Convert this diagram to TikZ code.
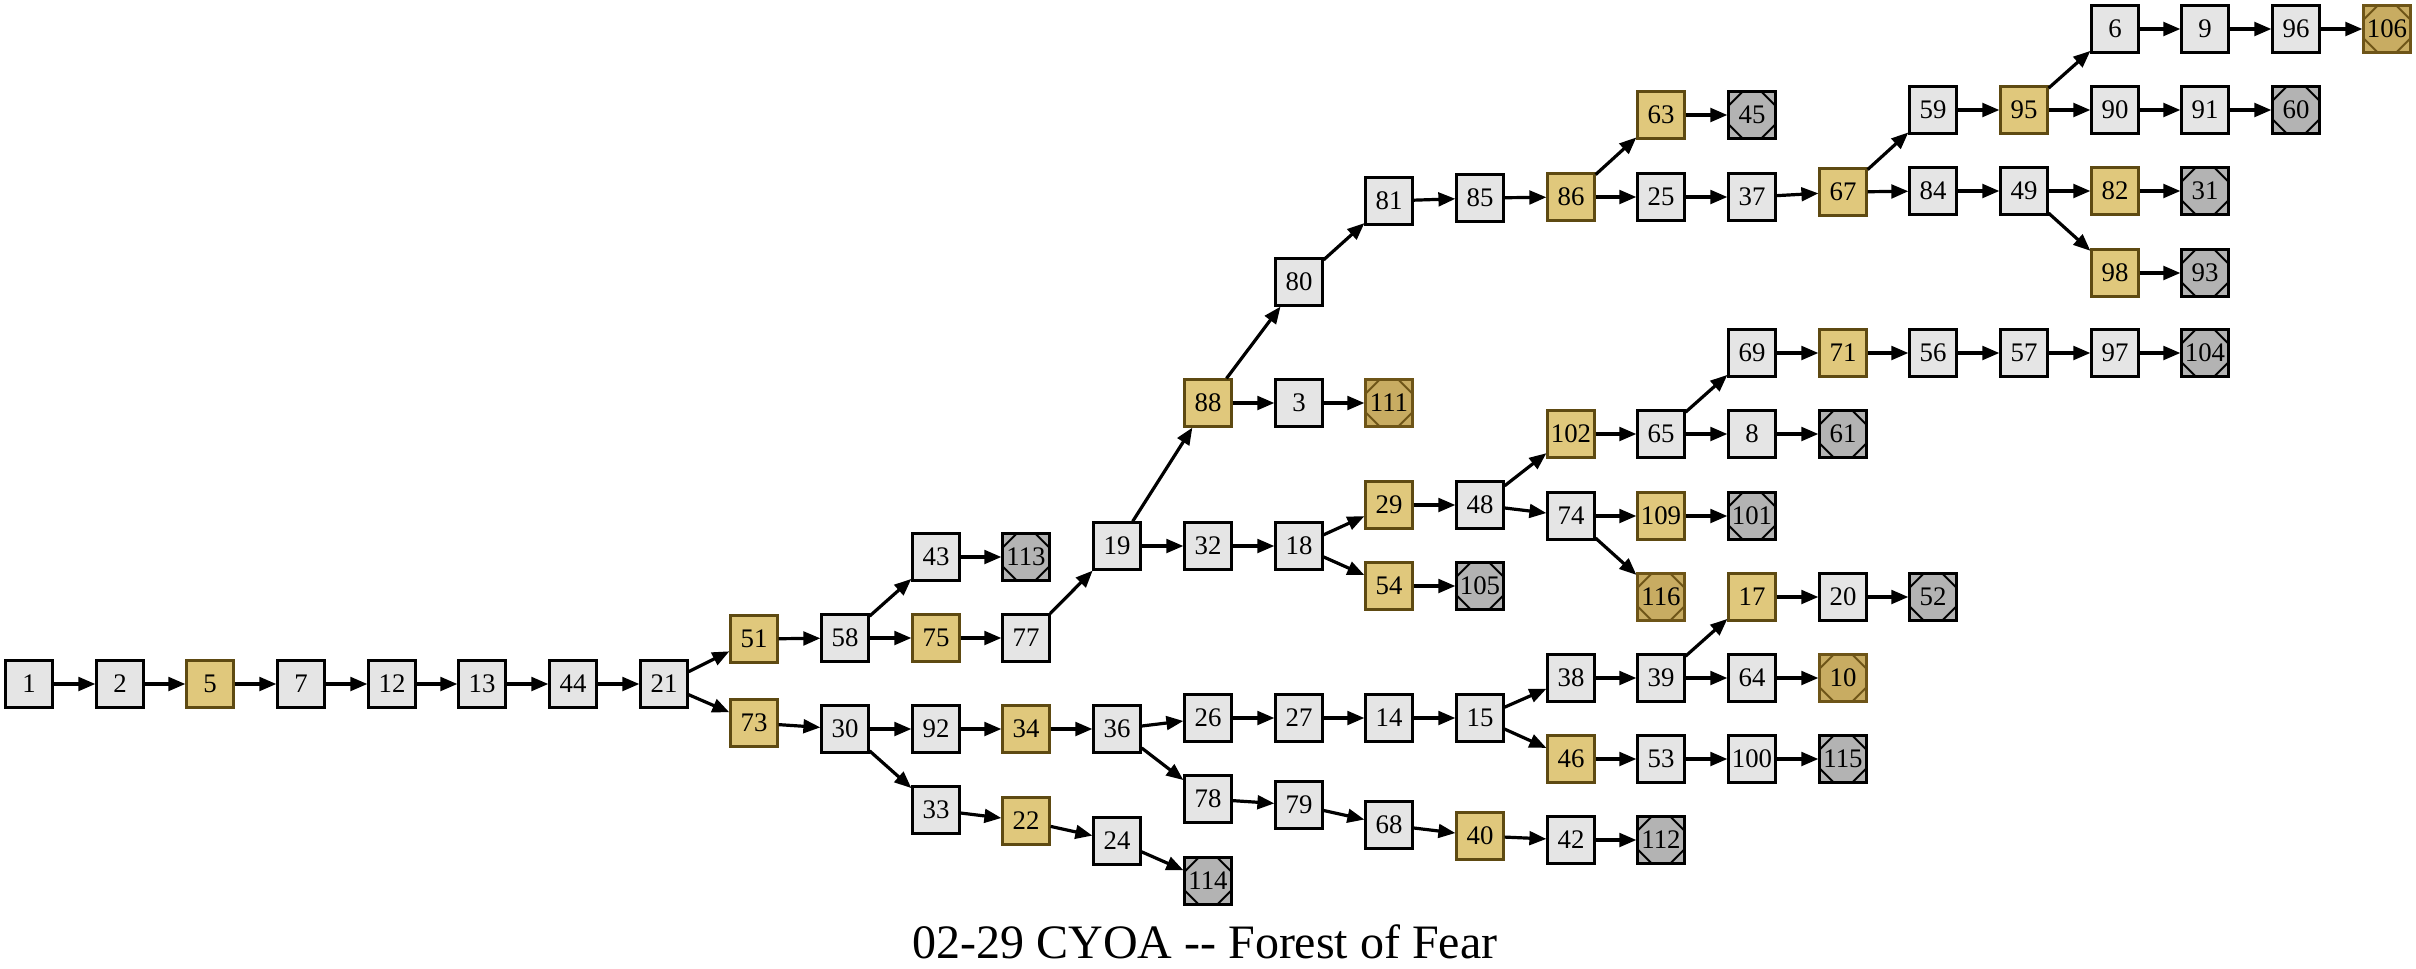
\documentclass[tikz,border=0pt]{standalone}
\usepackage{fontspec}
\setmainfont{Liberation Serif}
\usetikzlibrary{arrows.meta}
\definecolor{plainfill}{HTML}{E5E5E5}
\definecolor{goldfill}{HTML}{E0C87C}
\definecolor{goldline}{HTML}{5E4A12}
\definecolor{endgray}{HTML}{B3B3B3}
\definecolor{endgold}{HTML}{C8AC62}
\definecolor{endgoldline}{HTML}{6E5518}
\newcommand\cutcorners[1]{%
	\draw[#1,line width=1pt]
		([yshift=-6.8pt]path picture bounding box.north west) -- ([xshift=6.8pt]path picture bounding box.north west)
		([xshift=-6.8pt]path picture bounding box.north east) -- ([yshift=-6.8pt]path picture bounding box.north east)
		([yshift=6.8pt]path picture bounding box.south east) -- ([xshift=-6.8pt]path picture bounding box.south east)
		([xshift=6.8pt]path picture bounding box.south west) -- ([yshift=6.8pt]path picture bounding box.south west);}
\begin{document}
\begin{tikzpicture}[x=0.5pt,y=-0.5pt,
		plainbox/.style={draw=black,fill=plainfill,line width=1.4pt,minimum size=23.2pt,inner sep=0pt,font=\fontsize{13.4}{15}\selectfont},
		goldbox/.style={plainbox,draw=goldline,fill=goldfill},
		endbox/.style={plainbox,fill=endgray,path picture={\cutcorners{black}}},
		endgoldbox/.style={plainbox,draw=endgoldline,fill=endgold,path picture={\cutcorners{endgoldline}}},
		flow/.style={line width=1.6pt,-{Triangle[length=8.5pt,width=6.8pt]}}]
	\useasboundingbox (0,0) rectangle (2416,969);
	% main line
	\node[plainbox] (n1) at (29,684) {1};
	\node[plainbox] (n2) at (120,684) {2};
	\node[goldbox] (n5) at (210,684) {5};
	\node[plainbox] (n7) at (301,684) {7};
	\node[plainbox] (n12) at (392,684) {12};
	\node[plainbox] (n13) at (482,684) {13};
	\node[plainbox] (n44) at (573,684) {44};
	\node[plainbox] (n21) at (664,684) {21};
	% upper branch
	\node[goldbox] (n51) at (754,639) {51};
	\node[plainbox] (n58) at (845,638) {58};
	\node[plainbox] (n43) at (936,557) {43};
	\node[endbox] (n113) at (1026,557) {113};
	\node[goldbox] (n75) at (936,638) {75};
	\node[plainbox] (n77) at (1026,638) {77};
	\node[plainbox] (n19) at (1117,546) {19};
	\node[goldbox] (n88) at (1208,403) {88};
	\node[plainbox] (n3) at (1299,403) {3};
	\node[endgoldbox] (n111) at (1389,403) {111};
	\node[plainbox] (n80) at (1299,282) {80};
	\node[plainbox] (n81) at (1389,201) {81};
	\node[plainbox] (n85) at (1480,198) {85};
	\node[goldbox] (n86) at (1571,197) {86};
	\node[goldbox] (n63) at (1661,115) {63};
	\node[endbox] (n45) at (1752,115) {45};
	\node[plainbox] (n25) at (1661,197) {25};
	\node[plainbox] (n37) at (1752,197) {37};
	\node[goldbox] (n67) at (1843,192) {67};
	\node[plainbox] (n59) at (1933,110) {59};
	\node[goldbox] (n95) at (2024,110) {95};
	\node[plainbox] (n6) at (2115,29) {6};
	\node[plainbox] (n9) at (2205,29) {9};
	\node[plainbox] (n96) at (2296,29) {96};
	\node[endgoldbox] (n106) at (2387,29) {106};
	\node[plainbox] (n90) at (2115,110) {90};
	\node[plainbox] (n91) at (2205,110) {91};
	\node[endbox] (n60) at (2296,110) {60};
	\node[plainbox] (n84) at (1933,191) {84};
	\node[plainbox] (n49) at (2024,191) {49};
	\node[goldbox] (n82) at (2115,191) {82};
	\node[endbox] (n31) at (2205,191) {31};
	\node[goldbox] (n98) at (2115,273) {98};
	\node[endbox] (n93) at (2205,273) {93};
	\node[plainbox] (n32) at (1208,546) {32};
	\node[plainbox] (n18) at (1299,546) {18};
	\node[goldbox] (n29) at (1389,505) {29};
	\node[goldbox] (n54) at (1389,586) {54};
	\node[endbox] (n105) at (1480,586) {105};
	\node[plainbox] (n48) at (1480,505) {48};
	\node[goldbox] (n102) at (1571,434) {102};
	\node[plainbox] (n65) at (1661,434) {65};
	\node[plainbox] (n69) at (1752,353) {69};
	\node[goldbox] (n71) at (1843,353) {71};
	\node[plainbox] (n56) at (1933,353) {56};
	\node[plainbox] (n57) at (2024,353) {57};
	\node[plainbox] (n97) at (2115,353) {97};
	\node[endbox] (n104) at (2205,353) {104};
	\node[plainbox] (n8) at (1752,434) {8};
	\node[endbox] (n61) at (1843,434) {61};
	\node[plainbox] (n74) at (1571,516) {74};
	\node[goldbox] (n109) at (1661,516) {109};
	\node[endbox] (n101) at (1752,516) {101};
	\node[endgoldbox] (n116) at (1661,597) {116};
	% lower branch
	\node[goldbox] (n73) at (754,723) {73};
	\node[plainbox] (n30) at (845,729) {30};
	\node[plainbox] (n92) at (936,729) {92};
	\node[goldbox] (n34) at (1026,729) {34};
	\node[plainbox] (n36) at (1117,729) {36};
	\node[plainbox] (n26) at (1208,718) {26};
	\node[plainbox] (n27) at (1299,718) {27};
	\node[plainbox] (n14) at (1389,718) {14};
	\node[plainbox] (n15) at (1480,718) {15};
	\node[plainbox] (n38) at (1571,678) {38};
	\node[plainbox] (n39) at (1661,678) {39};
	\node[goldbox] (n17) at (1752,597) {17};
	\node[plainbox] (n20) at (1843,597) {20};
	\node[endbox] (n52) at (1933,597) {52};
	\node[plainbox] (n64) at (1752,678) {64};
	\node[endgoldbox] (n10) at (1843,678) {10};
	\node[goldbox] (n46) at (1571,759) {46};
	\node[plainbox] (n53) at (1661,759) {53};
	\node[plainbox] (n100) at (1752,759) {100};
	\node[endbox] (n115) at (1843,759) {115};
	\node[plainbox] (n78) at (1208,799) {78};
	\node[plainbox] (n79) at (1299,805) {79};
	\node[plainbox] (n68) at (1389,825) {68};
	\node[goldbox] (n40) at (1480,836) {40};
	\node[plainbox] (n42) at (1571,840) {42};
	\node[endbox] (n112) at (1661,840) {112};
	\node[plainbox] (n33) at (936,810) {33};
	\node[goldbox] (n22) at (1026,821) {22};
	\node[plainbox] (n24) at (1117,841) {24};
	\node[endbox] (n114) at (1208,881) {114};
	% links
	\foreach \a/\b in {1/2,2/5,5/7,7/12,12/13,13/44,44/21,21/51,21/73,51/58,58/43,58/75,43/113,
			75/77,77/19,19/88,19/32,88/80,88/3,3/111,80/81,81/85,85/86,86/63,86/25,63/45,25/37,
			37/67,67/59,67/84,59/95,95/6,95/90,6/9,9/96,96/106,90/91,91/60,84/49,49/82,49/98,
			82/31,98/93,32/18,18/29,18/54,54/105,29/48,48/102,48/74,102/65,65/69,65/8,69/71,
			71/56,56/57,57/97,97/104,8/61,74/109,74/116,109/101,73/30,30/92,30/33,92/34,34/36,
			36/26,36/78,26/27,27/14,14/15,15/38,15/46,38/39,39/17,39/64,17/20,20/52,64/10,
			46/53,53/100,100/115,78/79,79/68,68/40,40/42,42/112,33/22,22/24,24/114}
		\draw[flow] (n\a) -- (n\b);
	\node[font=\fontsize{24}{28}\selectfont,anchor=base] (title) at (1205,958) {02-29 CYOA -{}- Forest of Fear};
\end{tikzpicture}
\end{document}
